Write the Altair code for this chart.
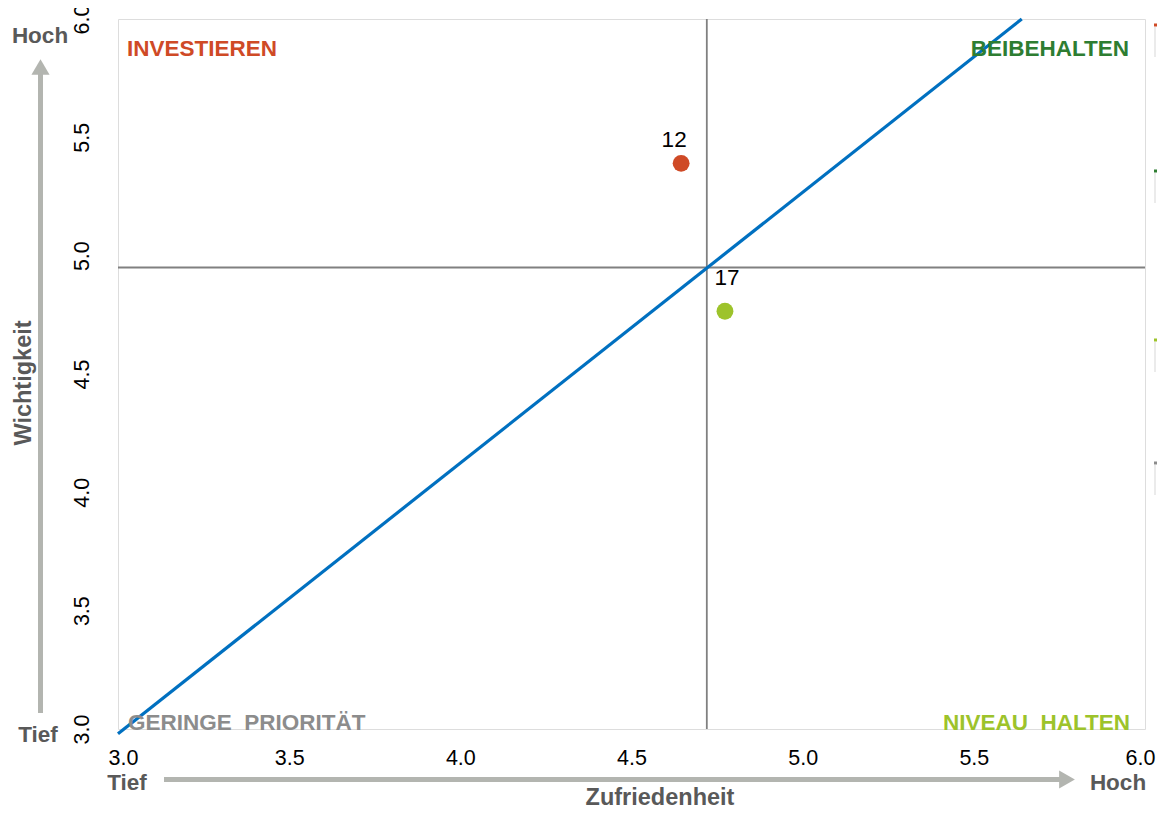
import altair as alt
import pandas as pd

# Data
point_ids = ["12", "17"]
satisfaction = [4.645, 4.773]
importance = [5.39, 4.765]
point_colors = ["#CF4A26", "#9DC32B"]

mean_x = 4.72
mean_y = 4.95
trend_x = [3.0, 5.64]
trend_y = [2.98, 6.0]

x_ticks = [3.0, 3.5, 4.0, 4.5, 5.0, 5.5, 6.0]
y_ticks = [3.0, 3.5, 4.0, 4.5, 5.0, 5.5, 6.0]

quad_labels = ["INVESTIEREN", "BEIBEHALTEN", "GERINGE\u00a0\u00a0PRIORITÄT", "NIVEAU\u00a0\u00a0HALTEN"]
quad_colors = ["#CF4A26", "#2E7D32", "#8C8C8C", "#9DC32B"]

W, H = 1027, 710
GRAY_TXT = "#595959"
ARROW = "#B3B5B0"
FONT = "Liberation Sans"

pts = pd.DataFrame({"id": point_ids, "x": satisfaction, "y": importance, "c": point_colors})
trend = pd.DataFrame({"x": trend_x, "y": trend_y})

xs = alt.Scale(domain=[3, 6], nice=False, zero=False)
ys = alt.Scale(domain=[3, 6], nice=False, zero=False)

xaxis = alt.Axis(values=x_ticks, format=".1f", title=None, grid=False, domain=False,
                 ticks=False, tickSize=0, labelFontSize=21.5, labelFont=FONT, labelColor="#000",
                 labelPadding=18, labelFlush=True, labelFlushOffset=10)
yaxis = alt.Axis(values=y_ticks, format=".1f", title=None, grid=False, domain=False,
                 ticks=False, tickSize=0, labelFontSize=21.5, labelFont=FONT, labelColor="#000",
                 labelAngle=270, labelAlign="center", labelBaseline="bottom",
                 labelPadding=25, labelFlush=False)

base = alt.Chart(pts)

vline = alt.Chart(pd.DataFrame({"x": [mean_x]})).mark_rule(color="#808080", strokeWidth=1.8).encode(
    x=alt.X("x:Q", scale=xs, axis=xaxis))
hline = alt.Chart(pd.DataFrame({"y": [mean_y]})).mark_rule(color="#808080", strokeWidth=1.8).encode(
    y=alt.Y("y:Q", scale=ys, axis=yaxis))

trend_line = alt.Chart(trend).mark_line(color="#0070C0", strokeWidth=3.2).encode(
    x=alt.X("x:Q", scale=xs), y=alt.Y("y:Q", scale=ys))

dots = base.mark_circle(size=285, opacity=1).encode(
    x=alt.X("x:Q", scale=xs), y=alt.Y("y:Q", scale=ys), color=alt.Color("c:N", scale=None))
lab12 = base.transform_filter(alt.datum.id == "12").mark_text(
    fontSize=22.5, font=FONT, color="#000", dx=-7, dy=-23).encode(
    x=alt.X("x:Q", scale=xs), y=alt.Y("y:Q", scale=ys), text="id:N")
lab17 = base.transform_filter(alt.datum.id == "17").mark_text(
    fontSize=22.5, font=FONT, color="#000", dx=2, dy=-33).encode(
    x=alt.X("x:Q", scale=xs), y=alt.Y("y:Q", scale=ys), text="id:N")

# quadrant labels (pixel placement within the plot area)
q_px = [9, W - 16, 10, W - 15]
q_py = [37, 37, 711, 711]
q_al = ["left", "right", "left", "right"]
quad_marks = []
for i in range(4):
    quad_marks.append(
        alt.Chart(pd.DataFrame({"t": [quad_labels[i]]})).mark_text(
            fontSize=22.5, fontWeight="bold", font=FONT, align=q_al[i],
            baseline="alphabetic", color=quad_colors[i]).encode(
            x=alt.value(q_px[i]), y=alt.value(q_py[i]), text="t:N"))

# axis decorations (pixel positions relative to plot area)
def txt(t, x, y, size=22.5, angle=0, baseline="alphabetic"):
    return alt.Chart(pd.DataFrame({"t": [t]})).mark_text(
        fontSize=size, fontWeight="bold", font=FONT, color=GRAY_TXT, angle=angle,
        align="center", baseline=baseline).encode(x=alt.value(x), y=alt.value(y), text="t:N")

decor = [
    txt("Zufriedenheit", 542, 786, 23.5),
    txt("Wichtigkeit", -94, 364, 23.5, 270, "middle"),
    txt("Hoch", -78, 24),
    txt("Tief", -80, 723),
    txt("Tief", 9, 771),
    txt("Hoch", 1000, 771),
]
dummy = pd.DataFrame({"a": [0]})
v_arrow = alt.Chart(dummy).mark_rule(color=ARROW, strokeWidth=5).encode(
    x=alt.value(-77.5), y=alt.value(694), y2=alt.value(52))
v_head = alt.Chart(dummy).mark_point(shape="triangle-up", filled=True, color=ARROW, size=330, opacity=1).encode(
    x=alt.value(-77.5), y=alt.value(48))
h_arrow = alt.Chart(dummy).mark_rule(color=ARROW, strokeWidth=5).encode(
    x=alt.value(46), x2=alt.value(944), y=alt.value(760.5))
h_head = alt.Chart(dummy).mark_point(shape="triangle-right", filled=True, color=ARROW, size=330, opacity=1).encode(
    x=alt.value(949), y=alt.value(760.5))

# clipped legend fragments at right edge
leg_colors = ["#CF4A26", "#2E7D32", "#9DC32B", "#8C8C8C"]
leg_y = [6, 152, 321, 444]
leg_marks = []
for c, yy in zip(leg_colors, leg_y):
    leg_marks.append(alt.Chart(dummy).mark_rule(color=c, strokeWidth=3).encode(
        x=alt.value(1036), x2=alt.value(1039), y=alt.value(yy)))
    leg_marks.append(alt.Chart(dummy).mark_rule(color="#EBEBEB", strokeWidth=2).encode(
        x=alt.value(1037), y=alt.value(yy + 2), y2=alt.value(yy + 32)))

chart = alt.layer(
    vline, hline, trend_line, dots, lab12, lab17, *quad_marks, *decor,
    v_arrow, v_head, h_arrow, h_head, *leg_marks
).properties(
    width=W, height=H,
    padding={"left": 110, "top": 11, "right": 12, "bottom": 77},
    autosize=alt.AutoSizeParams(type="none"),
).configure_view(stroke="#808080", strokeWidth=2).configure(font=FONT)

chart.save("out.html", embed_options={"renderer": "svg", "actions": False})
